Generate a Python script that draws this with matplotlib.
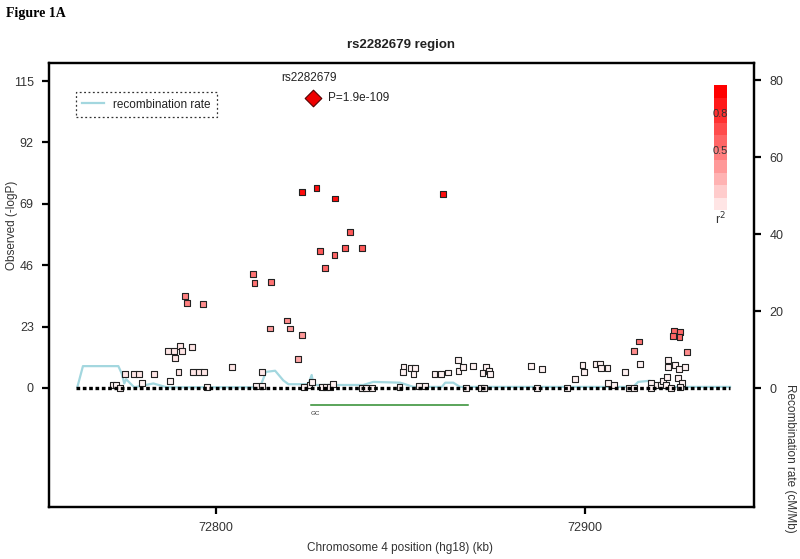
import matplotlib

matplotlib.use("Agg")

import matplotlib.pyplot as plt
import numpy as np
from matplotlib.colors import ListedColormap


# lead SNP
lead_name = "rs2282679"
lead_pos = 72826.3
lead_logp = 108.7

# SNPs: position (kb), -logP, r2
snp_pos = [
    72823.4, 72827.2, 72832.2, 72861.5,
    72836.4, 72828.2, 72832.1, 72835.0, 72839.5, 72829.6,
    72810.1, 72810.4, 72814.9, 72791.6, 72792.0, 72796.5,
    72819.3, 72814.7, 72820.1, 72823.4, 72822.1,
    72924.2, 72925.7, 72923.9, 72925.6, 72914.6, 72913.2, 72927.6,
    72790.2, 72786.9, 72788.6, 72790.7, 72793.4, 72788.8, 72775.2, 72777.8,
    72779.1, 72783.1, 72789.8, 72793.8, 72795.3, 72796.7, 72804.4, 72812.5,
    72787.5, 72780.0, 72771.9, 72772.9, 72774.0, 72797.5, 72810.7, 72812.5,
    72823.9, 72825.3, 72826.1, 72828.6, 72829.8, 72830.9, 72831.6, 72839.6,
    72840.7, 72842.2, 72849.7, 72850.8, 72850.6, 72852.8, 72854.0, 72853.5,
    72859.2, 72860.9, 72862.9, 72855.0, 72856.6, 72865.6, 72865.7, 72866.9,
    72869.6, 72873.1, 72872.2, 72874.0, 72874.3, 72867.8, 72871.8, 72872.5,
    72885.3, 72888.3, 72887.1, 72895.2, 72897.4, 72899.3, 72899.6, 72903.0,
    72904.1, 72904.3, 72906.1, 72906.3, 72907.9, 72910.8, 72914.9, 72912.0,
    72913.3, 72917.9, 72917.9, 72919.4, 72920.6, 72921.2, 72922.3, 72921.9,
    72923.2, 72922.6, 72922.6, 72924.5, 72925.5, 72927.1, 72925.3, 72926.2,
    72925.7,
]

snp_logp = [
    73.3, 74.8, 71.0, 72.7,
    58.4, 51.3, 49.9, 52.4, 52.4, 44.8,
    42.6, 39.2, 39.8, 34.3, 31.8, 31.6,
    25.3, 22.3, 22.3, 19.7, 10.7,
    21.3, 21.0, 19.4, 19.0, 17.4, 14.0, 13.4,
    15.7, 13.7, 13.7, 13.7, 15.4, 11.1, 5.1, 5.1,
    5.1, 5.1, 5.9, 5.9, 5.9, 6.1, 7.7, 5.9,
    2.7, 1.9, 1.0, 1.0, 0.1, 0.5, 0.7, 0.7,
    0.5, 1.2, 2.1, 0.5, 0.5, 0.5, 1.5, 0.1,
    0.1, 0.1, 0.5, 7.7, 5.9, 7.4, 7.4, 5.1,
    5.4, 5.4, 5.8, 0.7, 0.7, 10.4, 6.5, 7.7,
    8.1, 7.7, 5.5, 6.5, 5.1, 0.0, 0.0, 0.0,
    8.1, 7.0, 0.0, 0.0, 3.4, 8.7, 6.1, 9.0,
    9.0, 7.4, 7.4, 1.7, 1.0, 6.1, 9.1, 0.0,
    0.0, 1.7, 0.0, 1.0, 1.0, 2.6, 4.0, 1.0,
    0.0, 10.4, 7.7, 8.7, 7.0, 7.7, 3.6, 2.0,
    0.5,
]

snp_r2 = (
    [0.95, 0.95, 0.95, 0.95]
    + [0.65, 0.65, 0.6, 0.65, 0.65, 0.6]
    + [0.55, 0.55, 0.55, 0.5, 0.5, 0.45]
    + [0.45, 0.4, 0.4, 0.4, 0.35]
    + [0.6, 0.6, 0.6, 0.6, 0.55, 0.45, 0.45]
    + [0.1] * 16
    + [0.05] * 73
)

# recombination rate (cM/Mb)
recomb_pos = [
    72762.4, 72763.9, 72773.5, 72774.4, 72775.1, 72775.6, 72777.8, 72783.0,
    72786.6, 72811.9, 72813.5, 72816.0, 72818.2, 72819.6, 72825.0, 72825.9,
    72826.4, 72839.9, 72842.6, 72849.9, 72853.5, 72861.2, 72862.1, 72864.3,
    72866.1, 72913.0, 72914.4, 72917.6, 72919.0, 72939.3,
]
recomb_rate = [
    0.3, 5.7, 5.7, 3.8, 1.2, 2.3, 0.2, 1.2,
    0.2, 0.2, 4.2, 4.5, 2.0, 1.0, 1.0, 3.4,
    0.8, 0.8, 1.6, 1.4, 0.3, 0.3, 1.4, 1.4,
    0.3, 0.3, 1.6, 1.9, 0.3, 0.3,
]

# gene
gene_name = "GC"
gene_start = 72825.7
gene_end = 72868.3

baseline_x = [72762.0, 72939.3]

r2_bands = np.linspace(0.1, 1.0, 10)


def r2_color(r):
    return (1.0, 1.0 - r, 1.0 - r)


plt.rcParams["font.family"] = ["Liberation Sans", "DejaVu Sans"]

fig = plt.figure(
    figsize=(8, 5.59),
    dpi=100
)

ax = fig.add_axes([0.06125, 0.093, 0.88125, 0.794])
ax2 = ax.twinx()

ax.set_zorder(ax2.get_zorder() + 1)
ax.patch.set_visible(False)

ax.set_xlim(72754.7, 72945.8)
ax.set_ylim(-44.6, 121.7)
ax2.set_ylim(-30.9, 84.4)

# recombination line on the right axis
(recomb_line,) = ax2.plot(
    recomb_pos,
    recomb_rate,
    color="#a3d7df",
    lw=1.6,
    label="recombination rate"
)

# SNPs
ax.scatter(
    snp_pos,
    snp_logp,
    marker="s",
    s=18,
    c=[r2_color(r) for r in snp_r2],
    edgecolors="#222222",
    linewidths=0.8,
    zorder=3
)

# baseline
ax.plot(
    baseline_x,
    [0, 0],
    color="black",
    lw=2.4,
    linestyle=(0, (1.1, 0.8)),
    zorder=4
)

# lead SNP
ax.scatter(
    [lead_pos],
    [lead_logp],
    marker="D",
    s=72,
    color="#ee0000",
    edgecolors="#550000",
    linewidths=0.8,
    zorder=5
)

ax.text(
    lead_pos - 1.2,
    116.3,
    lead_name,
    ha="center",
    va="center",
    fontsize=8.5,
    color="#222222"
)

ax.text(
    lead_pos + 4,
    108.7,
    "P=1.9e-109",
    ha="left",
    va="center",
    fontsize=8.5,
    color="#222222"
)

# gene
ax.plot(
    [gene_start, gene_end],
    [-6.4, -6.4],
    color="#2e8b2e",
    lw=1.1,
    zorder=2
)

ax.text(
    gene_start,
    -9.6,
    gene_name,
    ha="left",
    va="center",
    fontsize=4.5,
    color="#333333"
)

# legend
leg = ax.legend(
    handles=[recomb_line],
    loc="upper left",
    bbox_to_anchor=(0.038, 0.935),
    borderaxespad=0,
    fontsize=8.5,
    frameon=True,
    fancybox=False,
    handlelength=1.8,
    borderpad=0.55,
    labelcolor="#222222"
)
frame = leg.get_frame()
frame.set_edgecolor("black")
frame.set_linestyle((0, (1.5, 2.0)))
frame.set_linewidth(0.9)

# r2 colour key
cax = ax.inset_axes([0.943, 0.669, 0.0184, 0.281])
cax.imshow(
    r2_bands.reshape(-1, 1),
    cmap=ListedColormap([r2_color(r) for r in r2_bands]),
    aspect="auto",
    origin="lower",
    extent=(0, 1, 0, 1)
)
cax.set_axis_off()

cax.text(0.5, 0.77, "0.8", ha="center", va="center", fontsize=8, color="#333333")
cax.text(0.5, 0.47, "0.5", ha="center", va="center", fontsize=8, color="#333333")
cax.text(0.5, -0.07, "r$^2$", ha="center", va="center", fontsize=9, color="#333333")

# axes styling
ax.set_xticks([72800, 72900])
ax.set_yticks([0, 23, 46, 69, 92, 115])
ax2.set_yticks([0, 20, 40, 60, 80])

for a in (ax, ax2):
    for spine in a.spines.values():
        spine.set_linewidth(1.6)
    a.tick_params(
        length=5,
        width=1.6,
        labelsize=9,
        labelcolor="#333333",
        pad=6
    )

fig.text(
    0.501,
    1 - 45 / 559,
    "rs2282679 region",
    ha="center",
    va="center",
    fontsize=9.5,
    fontweight="bold",
    color="#222222"
)

fig.text(
    0.007,
    1 - 13 / 559,
    "Figure 1A",
    ha="left",
    va="center",
    fontsize=10,
    fontweight="bold",
    family=["Liberation Serif", "DejaVu Serif"]
)

fig.text(
    0.5,
    1 - 548 / 559,
    "Chromosome 4 position (hg18) (kb)",
    ha="center",
    va="center",
    fontsize=8.5,
    color="#333333"
)

fig.text(
    12 / 800,
    1 - 225 / 559,
    "Observed (-logP)",
    rotation=90,
    ha="center",
    va="center",
    fontsize=8.5,
    color="#333333"
)

fig.text(
    790 / 800,
    1 - 458 / 559,
    "Recombination rate (cM/Mb)",
    rotation=270,
    ha="center",
    va="center",
    fontsize=8.5,
    color="#333333"
)

fig.savefig("out.png", dpi=100)
plt.close(fig)
